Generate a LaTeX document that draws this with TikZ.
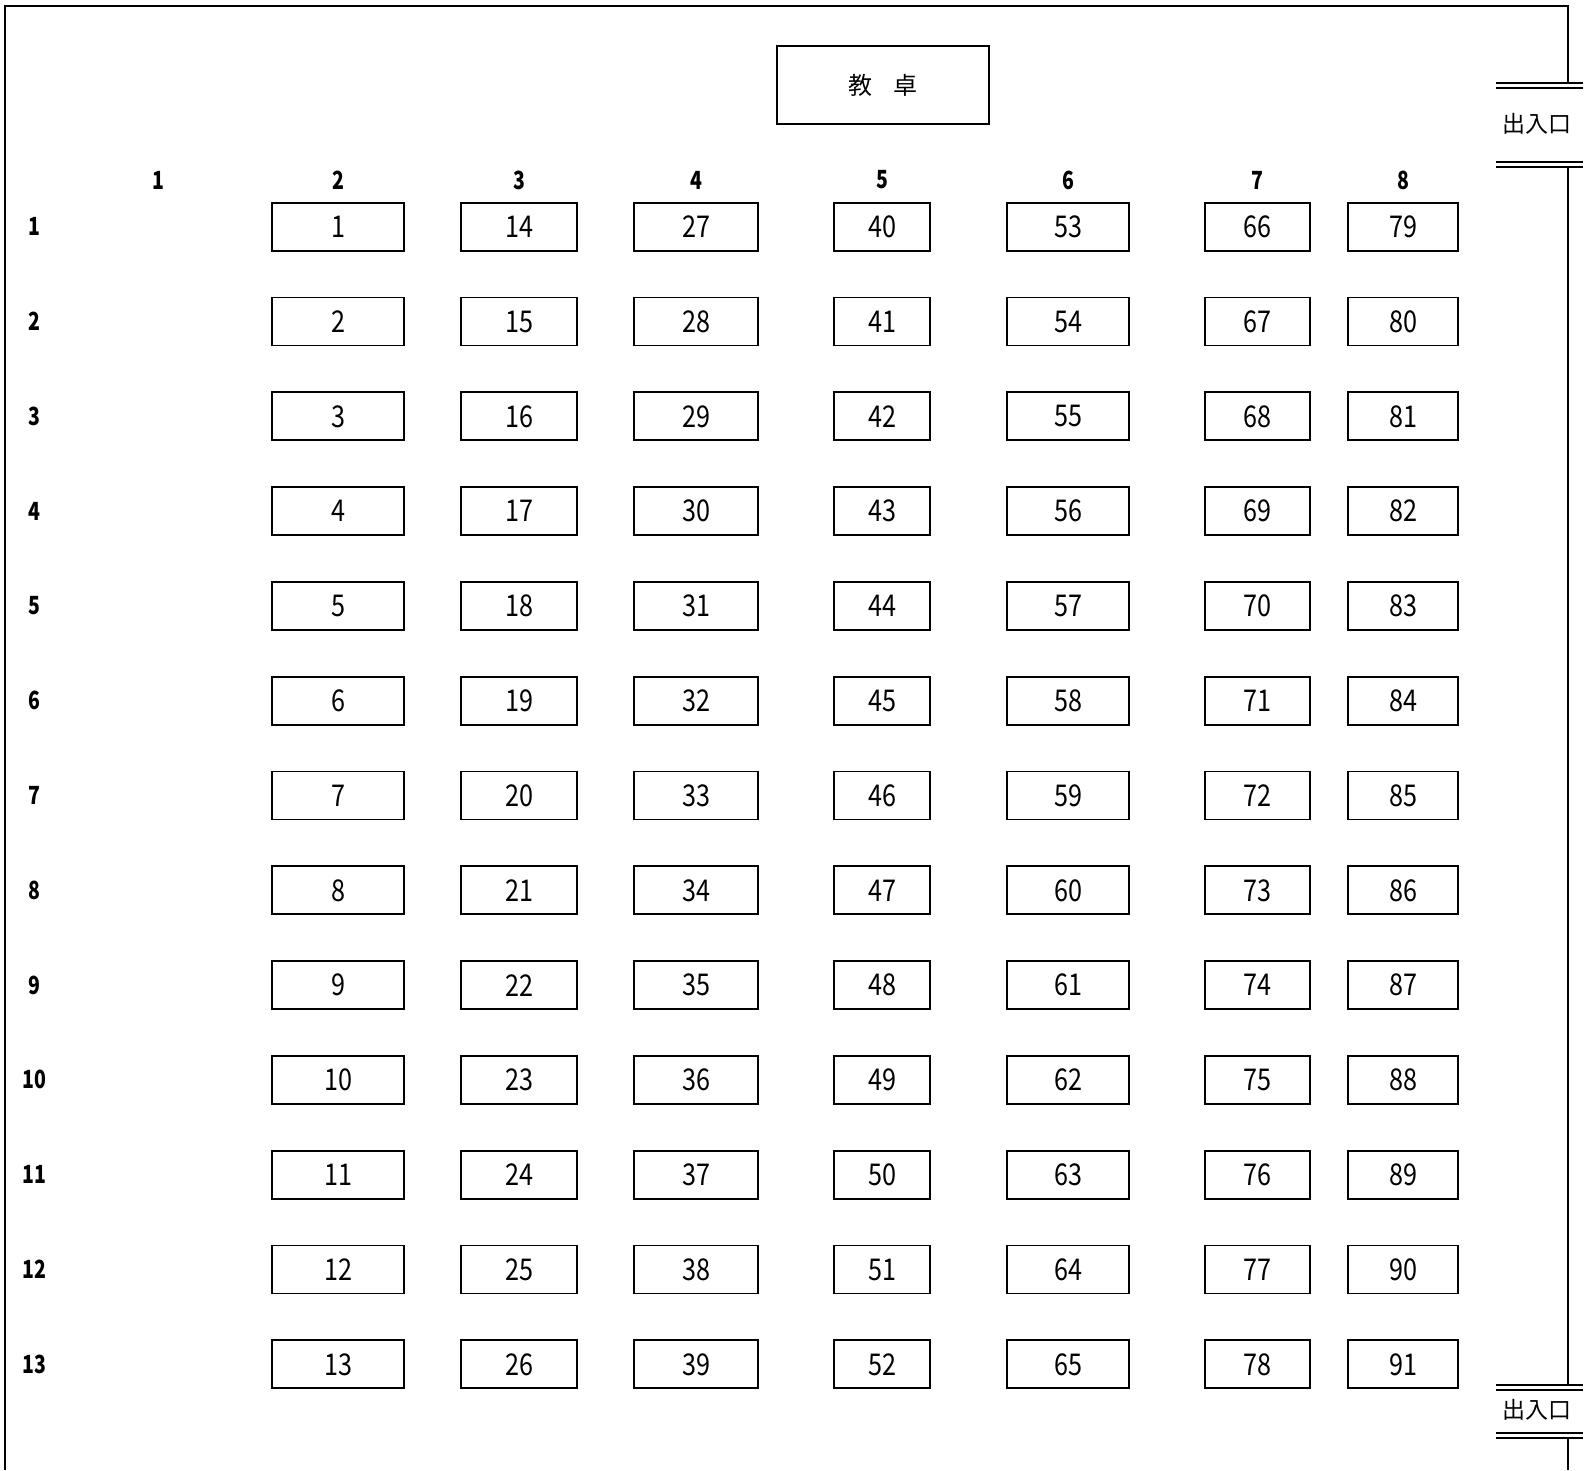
\documentclass[tikz,border=0pt]{standalone}
\usepackage{fontspec}
\usepackage{graphicx}
\setmainfont{Noto Sans CJK JP}
\newcommand{\narrowtext}[2]{\scalebox{#1}[1]{#2}}
\begin{document}
\begin{tikzpicture}[x=1pt,y=-1pt,
  seat/.style={draw,line width=1.8pt,minimum height=48pt,inner sep=0pt,font=\fontsize{30}{32}\selectfont},
  hdr/.style={font=\fontsize{25}{27}\selectfont\bfseries},
  wall/.style={line width=1.8pt},
  door/.style={font=\fontsize{23}{25}\selectfont}]
\useasboundingbox (0,0) rectangle (1585,1470);
% walls
\draw[wall] (5,1470) -- (5,6) -- (1568,6) -- (1568,83);
\draw[wall] (1496,83) -- (1583,83) (1496,88) -- (1583,88);
\node[door] (door1) at (1537,124) {出入口};
\draw[wall] (1496,162) -- (1583,162) (1496,167) -- (1583,167);
\draw[wall] (1568,167) -- (1568,1385);
\draw[wall] (1496,1385) -- (1583,1385) (1496,1390) -- (1583,1390);
\node[door] (door2) at (1537,1410) {出入口};
\draw[wall] (1496,1433) -- (1583,1433) (1496,1438) -- (1583,1438);
\draw[wall] (1568,1438) -- (1568,1470);
% teacher desk
\node[draw,line width=1.8pt,minimum width=212pt,minimum height=78pt,font=\fontsize{24}{26}\selectfont] (desk) at (883,85) {教\hspace{0.9em}卓};
% column headers
\node[hdr] (h1) at (158,180) {\narrowtext{0.78}{1}};
\foreach \x/\w [count=\i from 2] in {338/132,519/116,696/124,882/96,1068/122,1257.5/105,1403/110}{
  \node[hdr] (h\i) at (\x,180) {\narrowtext{0.78}{\i}};
  \foreach \r in {1,...,13}{
    \pgfmathtruncatemacro{\n}{(\i-2)*13+\r}
    \node[seat,minimum width=\w pt] (s\n) at (\x,{226.7+(\r-1)*94.8}) {\narrowtext{0.84}{\n}};
  }
}
% row labels
\foreach \r in {1,...,13}{
  \node[hdr] (r\r) at (34,{226.7+(\r-1)*94.8}) {\narrowtext{0.78}{\r}};
}
\end{tikzpicture}
\end{document}
